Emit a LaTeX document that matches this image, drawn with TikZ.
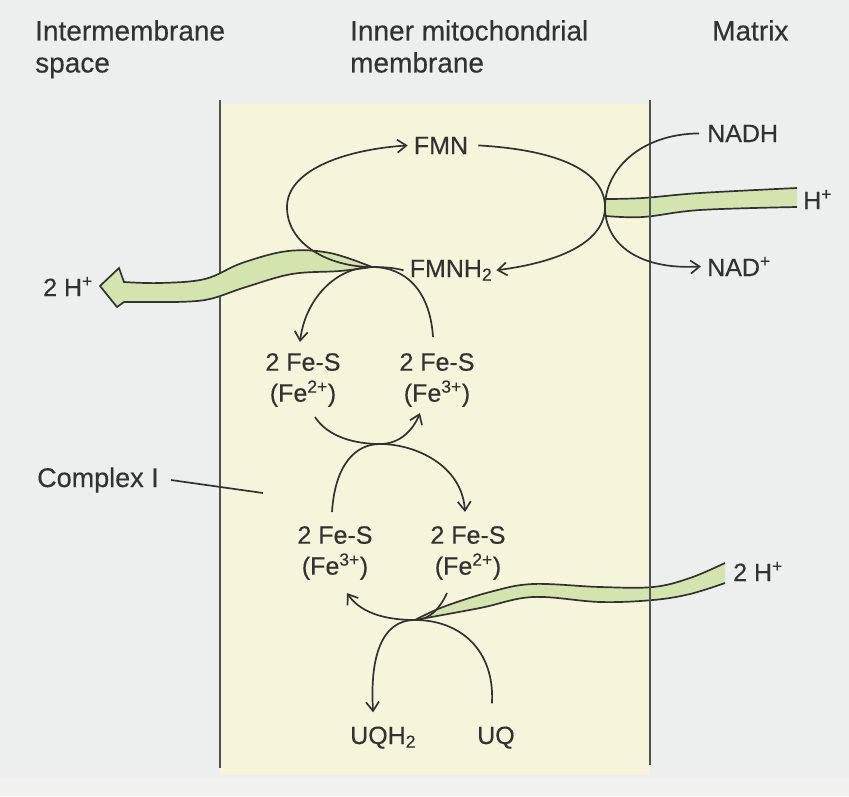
\documentclass[tikz,border=0pt]{standalone}
\usepackage{fontspec}
\setmainfont[FakeBold=0.3]{Liberation Sans}
\usetikzlibrary{arrows.meta}
\definecolor{ink}{RGB}{50,50,50}
\definecolor{paper}{RGB}{236,239,238}
\definecolor{paperlow}{RGB}{241,242,239}
\definecolor{membr}{RGB}{246,245,220}
\definecolor{hband}{RGB}{212,228,174}

\begin{document}
\begin{tikzpicture}[
    x=1pt, y=-1pt,
    lbl/.style={inner sep=0pt, text=ink, font=\fontsize{25}{31}\selectfont},
    head/.style={lbl, anchor=north west, align=left, font=\fontsize{28}{32}\selectfont},
    fes/.style={lbl, align=center, anchor=north},
    ln/.style={draw=ink, line width=1.7pt},
    arr/.style={ln, -{Straight Barb[length=9pt, width=13pt]}},
    band/.style={fill=hband, draw=ink, line width=1.7pt},
    wall/.style={draw=ink!85, line width=1.9pt}
]
\useasboundingbox (0,0) rectangle (849,796);
\fill[paper] (0,0) rectangle (849,796);
\fill[paperlow] (0,778) rectangle (849,796);
\fill[membr] (220,104) rectangle (650,775);

% compartments
\node[head] (ims) at (35,20) {Intermembrane\\space};
\node[head] (imm) at (350,20) {Inner mitochondrial\\membrane};
\node[head] (mtx) at (712,20) {Matrix};

\draw[wall] (220,100) -- (220,768);

% species
\node[lbl, anchor=base] (fmn) at (441,154) {FMN};
\node[lbl, anchor=base] (fmnh) at (451,277) {FMNH\textsubscript{2}};
\node[lbl, anchor=base west] (nadh) at (707,142) {NADH};
\node[lbl, anchor=base west] (nad) at (707,276) {NAD\textsuperscript{+}};
\node[lbl, anchor=base west] (hr) at (803,209) {H\textsuperscript{+}};
\node[lbl, anchor=base west] (hl) at (43,296) {2 H\textsuperscript{+}};
\node[lbl, anchor=base west] (hb) at (733,581) {2 H\textsuperscript{+}};
\node[fes] (fesul) at (303,353) {2 Fe-S\\(Fe\textsuperscript{2+})};
\node[fes] (fesur) at (437,353) {2 Fe-S\\(Fe\textsuperscript{3+})};
\node[fes] (fesll) at (335,526) {2 Fe-S\\(Fe\textsuperscript{3+})};
\node[fes] (feslr) at (468,526) {2 Fe-S\\(Fe\textsuperscript{2+})};
\node[lbl, anchor=base west, font=\fontsize{27}{31}\selectfont] (cx) at (37,487) {Complex I};
\node[lbl, anchor=base west] (uqh) at (350,744) {UQH\textsubscript{2}};
\node[lbl, anchor=base west] (uq) at (477,744) {UQ};

\coordinate (jr) at (605,207);
\coordinate (j1) at (372,267);
\coordinate (j2) at (380,444);
\coordinate (j3) at (415,620);
\coordinate (cxend) at (263,493);

% proton bands
\filldraw[band] plot[smooth, tension=0.6] coordinates {(j1) (330,253) (288,251) (242,263) (205,279) (160,283) (124,282)}
    -- (119,268) -- (100,286) -- (117,307) -- (124,302)
    -- plot[smooth, tension=0.6] coordinates {(160,302) (205,300) (246,287) (292,274) (340,271) (j1)} -- cycle;

\fill[hband] plot[smooth, tension=0.6] coordinates {(606,199) (643,198) (700,193) (797,188)}
    -- plot[smooth, tension=0.6] coordinates {(797,207) (700,210) (643,217) (606,216)} -- cycle;
\draw[ln] plot[smooth, tension=0.6] coordinates {(606,199) (643,198) (700,193) (797,188)};
\draw[ln] plot[smooth, tension=0.6] coordinates {(606,216) (643,217) (700,210) (797,207)};

\fill[hband] plot[smooth, tension=0.6] coordinates {(j3) (443,607) (490,592) (533,584) (600,587) (653,587) (690,578) (725,563)}
    -- plot[smooth, tension=0.6] coordinates {(725,583) (690,594) (653,600) (600,602) (533,597) (480,608) (j3)} -- cycle;
\draw[ln] plot[smooth, tension=0.6] coordinates {(j3) (443,607) (490,592) (533,584) (600,587) (653,587) (690,578) (725,563)};
\draw[ln] plot[smooth, tension=0.6] coordinates {(j3) (480,608) (533,597) (600,602) (653,600) (690,594) (725,583)};

\draw[wall] (650,100) -- (650,765);

% electron paths
\draw[arr] ([xshift=10pt]fmn.east) .. controls (560,150) and (605,172) .. (jr)
    .. controls (605,242) and (560,262) .. ([xshift=4pt]fmnh.east);
\draw[arr] ([xshift=-8pt]nadh.west) .. controls (640,134) and (605,170) .. (jr)
    .. controls (605,245) and (640,270) .. ([xshift=-6pt]nad.west);
\draw[arr] ([xshift=-6pt]fmnh.west) .. controls (395,268) and (385,267) .. (j1)
    .. controls (330,267) and (287,245) .. (287,207)
    .. controls (287,172) and (340,150) .. ([xshift=-6pt]fmn.west);
\draw[arr] ([xshift=-4pt,yshift=16pt]fesur.north) .. controls (430,290) and (405,267) .. (j1)
    .. controls (335,267) and (305,300) .. ([xshift=-3pt,yshift=11pt]fesul.north);
\draw[arr] ([xshift=12pt,yshift=-10pt]fesul.south) .. controls (328,437) and (355,444) .. (j2)
    .. controls (400,444) and (413,430) .. ([xshift=-17pt,yshift=-6pt]fesur.south);
\draw[arr] ([xshift=-3pt,yshift=14pt]fesll.north) .. controls (335,465) and (355,444) .. (j2)
    .. controls (415,444) and (462,465) .. ([xshift=-3pt,yshift=14pt]feslr.north);
\draw[arr] ([xshift=-21pt,yshift=-13pt]feslr.south) .. controls (440,608) and (430,620) .. (j3)
    .. controls (390,620) and (362,615) .. ([xshift=12pt,yshift=-13pt]fesll.south);
\draw[arr] ([xshift=-4pt,yshift=23pt]uq.north) .. controls (495,650) and (460,620) .. (j3)
    .. controls (380,620) and (370,660) .. ([xshift=-10pt,yshift=14pt]uqh.north);

\draw[ln] ([xshift=12pt]cx.east) -- (cxend);
\end{tikzpicture}
\end{document}
